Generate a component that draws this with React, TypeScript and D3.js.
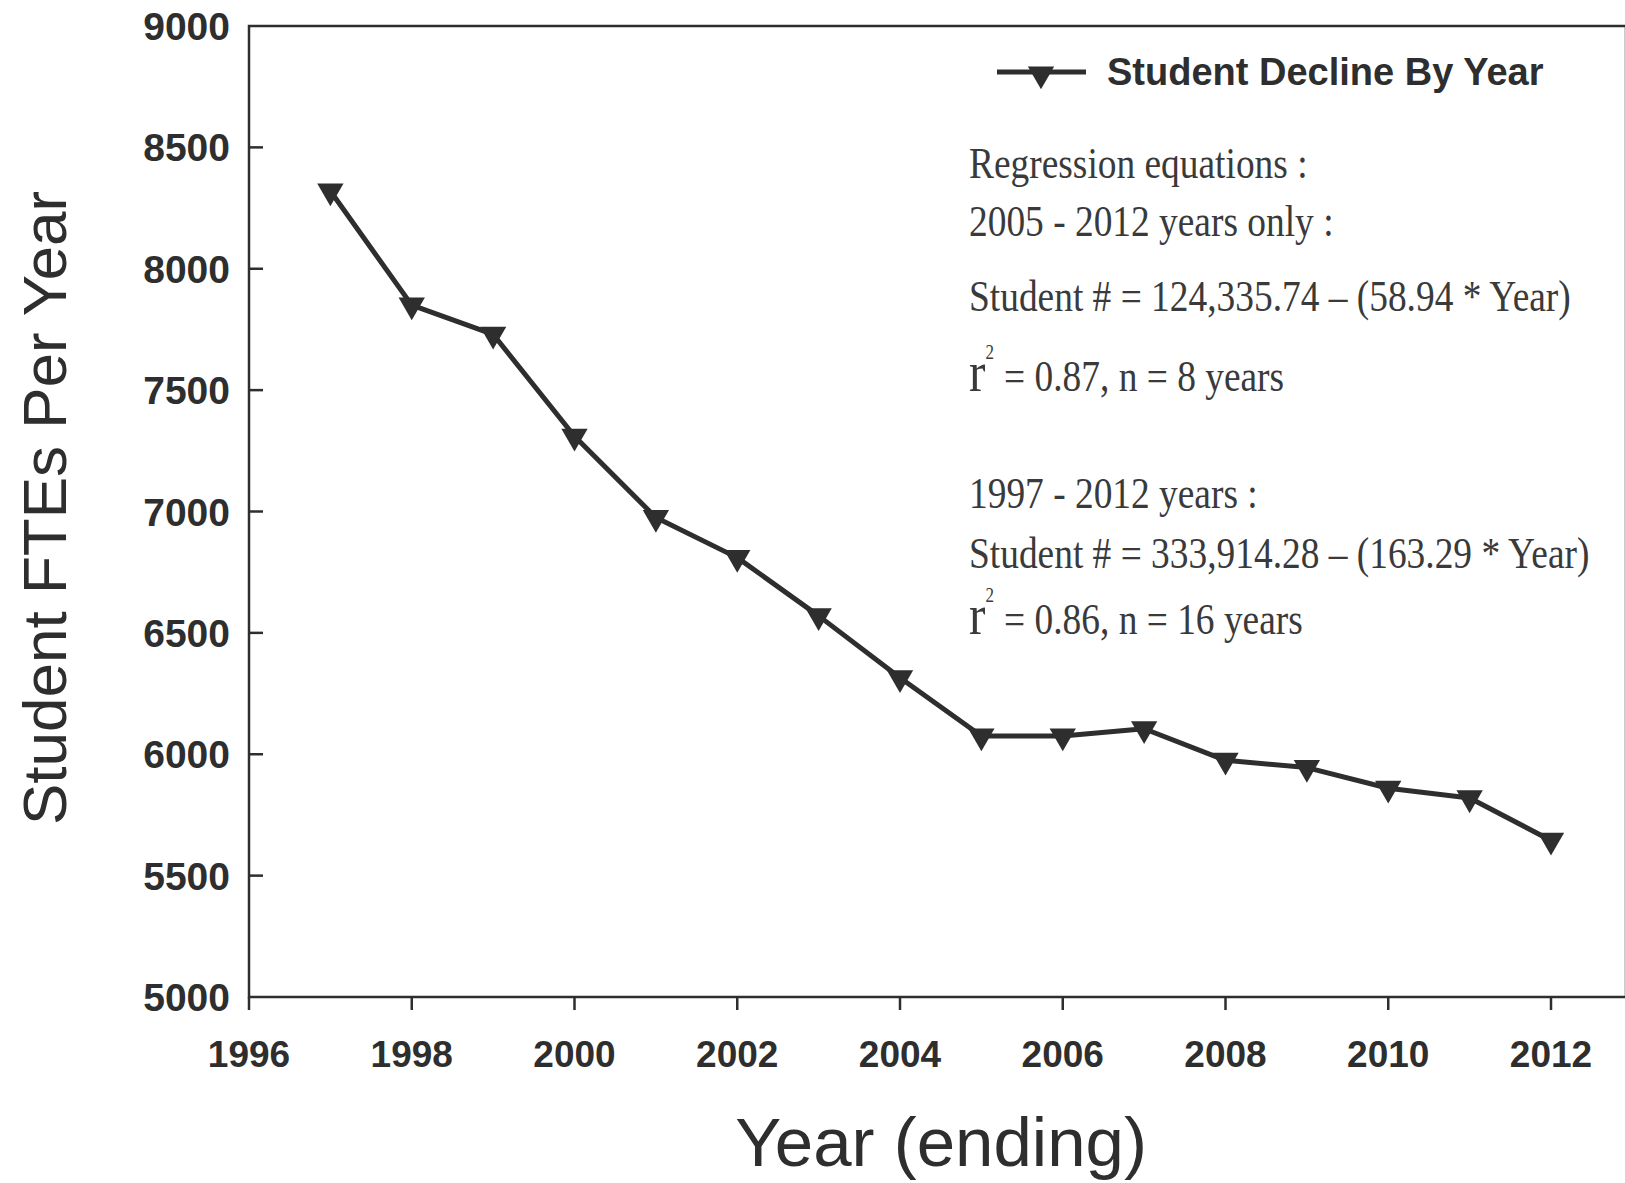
import React from 'react';
import * as d3 from 'd3';

const years = [1997, 1998, 1999, 2000, 2001, 2002, 2003, 2004, 2005, 2006, 2007, 2008, 2009, 2010, 2011, 2012];
const students = [8320, 7850, 7730, 7310, 6975, 6810, 6570, 6315, 6075, 6075, 6105, 5975, 5945, 5860, 5820, 5645];
const xTicks = [1996, 1998, 2000, 2002, 2004, 2006, 2008, 2010, 2012];
const yTicks = [5000, 5500, 6000, 6500, 7000, 7500, 8000, 8500, 9000];
const seriesName = 'Student Decline By Year';
const xTitle = 'Year (ending)';
const yTitle = 'Student FTEs Per Year';
const noteLines = [
  'Regression equations :',
  '2005 - 2012 years only :',
  'Student # = 124,335.74 \u2013 (58.94 * Year)',
  'r|= 0.87,  n = 8 years',
  '1997 - 2012 years :',
  'Student # = 333,914.28 \u2013 (163.29 * Year)',
  'r|= 0.86, n = 16 years',
];

const W = 1625;
const H = 1183;
const M = { left: 249, top: 26, right: 1626, bottom: 997 };
const INK = '#2e2e2e';
const SANS = '"Liberation Sans", Arial, sans-serif';
const SERIF = '"Liberation Serif", "Times New Roman", serif';

export default function App() {
  const x = d3.scaleLinear().domain([1996, 2012]).range([M.left, 1551]);
  const y = d3.scaleLinear().domain([5000, 9000]).range([M.bottom, M.top]);
  const line = d3.line<number>().x((_, i) => x(years[i])).y((d) => y(d));
  const tri = d3.symbol(d3.symbolTriangle, 300)() as string;
  const noteY = [178, 236, 311, 391, 508, 568, 634];

  return (
    <svg width={W} height={H} style={{ position: 'absolute', left: 0, top: 0, background: '#fff' }}>
      <rect x={0} y={0} width={W} height={H} fill="#fff" />
      {/* frame */}
      <path
        d={`M${M.left},${M.top}H${M.right}V${M.bottom}H${M.left}Z`}
        fill="none"
        stroke={INK}
        strokeWidth={2.5}
      />
      {/* y ticks (inward) */}
      {yTicks.map((t) => (
        <g key={'y' + t}>
          {t !== 5000 && t !== 9000 && (
            <line x1={M.left} x2={M.left + 14} y1={y(t)} y2={y(t)} stroke={INK} strokeWidth={2.5} />
          )}
          <text
            x={230}
            y={y(t)}
            dy="0.36em"
            textAnchor="end"
            fontFamily={SANS}
            fontWeight="bold"
            fontSize={39}
            fill={INK}
          >
            {t}
          </text>
        </g>
      ))}
      {/* x ticks (outward) */}
      {xTicks.map((t) => (
        <g key={'x' + t}>
          <line x1={x(t)} x2={x(t)} y1={M.bottom} y2={M.bottom + 13} stroke={INK} strokeWidth={2.5} />
          <text
            x={x(t)}
            y={1067}
            textAnchor="middle"
            fontFamily={SANS}
            fontWeight="bold"
            fontSize={37}
            fill={INK}
          >
            {t}
          </text>
        </g>
      ))}
      {/* axis titles */}
      <text
        x={941}
        y={1166}
        textAnchor="middle"
        fontFamily={SANS}
        fontSize={69}
        fill={INK}
      >
        {xTitle}
      </text>
      <text
        transform={`translate(66,508) rotate(-90)`}
        textAnchor="middle"
        fontFamily={SANS}
        fontSize={62}
        fill={INK}
      >
        {yTitle}
      </text>
      {/* series */}
      <path d={line(students) as string} fill="none" stroke={INK} strokeWidth={5} strokeLinejoin="round" />
      {students.map((v, i) => (
        <path key={'m' + i} d={tri} transform={`translate(${x(years[i])},${y(v)}) rotate(180)`} fill={INK} />
      ))}
      {/* legend */}
      <line x1={997} x2={1086} y1={72} y2={72} stroke={INK} strokeWidth={5} />
      <path d={tri} transform="translate(1041,74) rotate(180)" fill={INK} />
      <text x={1107} y={85} fontFamily={SANS} fontWeight="bold" fontSize={38} fill={INK}>
        {seriesName}
      </text>
      {/* regression notes */}
      <g transform="translate(969,0) scale(0.85,1)" fontFamily={SERIF} fill="#3a3a3a" fontSize={44}>
        {noteLines.map((s, i) => {
          if (s.startsWith('r|')) {
            const rest = s.slice(2);
            return (
              <text key={'n' + i} x={0} y={noteY[i]}>
                <tspan fontSize={58}>r</tspan>
                <tspan fontSize={20} dy={-32}>2</tspan>
                <tspan dy={32} dx={12}>{rest}</tspan>
              </text>
            );
          }
          return (
            <text key={'n' + i} x={0} y={noteY[i]}>
              {s}
            </text>
          );
        })}
      </g>
    </svg>
  );
}
